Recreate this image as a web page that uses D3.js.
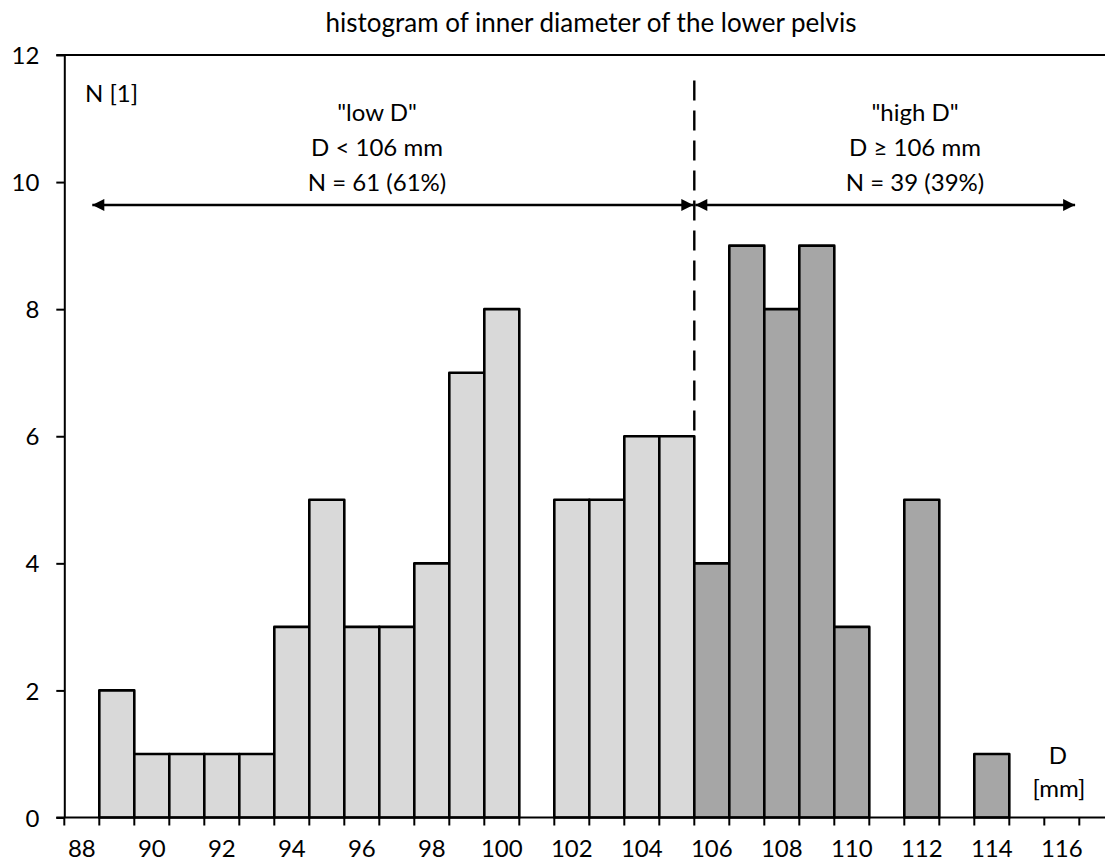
<!DOCTYPE html>
<html>
<head>
<meta charset="utf-8">
<script src="https://cdn.jsdelivr.net/npm/d3@7"></script>
<style>
  html, body { margin: 0; padding: 0; background: #fff; }
  svg text { font-family: Lato, "Open Sans", sans-serif; fill: #000; }
</style>
</head>
<body>
<svg id="chart" width="1105" height="865"></svg>
<script>
// ---- data ----
const categories = ["88","89","90","91","92","93","94","95","96","97","98","99","100","101","102",
                    "103","104","105","106","107","108","109","110","111","112","113","114","115","116","117"];
const counts     = [0, 2, 1, 1, 1, 1, 3, 5, 3, 3, 4, 7, 8, 0, 5,
                    5, 6, 6, 4, 9, 8, 9, 3, 0, 5, 0, 1, 0, 0, 0];
const xTickLabels = ["88","90","92","94","96","98","100","102","104","106","108","110","112","114","116"];
const yTicks = [0, 2, 4, 6, 8, 10, 12];
const threshold = 106;          // "low D" < 106 mm <= "high D"
const title = "histogram of inner diameter of the lower pelvis";
const lowLabel  = ['"low D"', "D < 106 mm", "N = 61 (61%)"];
const highLabel = ['"high D"', "D \u2265 106 mm", "N = 39 (39%)"];
const arrowLevel = 9.64;        // y value of the double arrows
const dashTop = 11.6;           // y value where the split line starts
const dashBottom = 6;           // y value where the split line ends
const arrowLeftEnd = 88.3;      // x (category units) of left arrow tip
const arrowRightEnd = 116.38;   // x (category units) of right arrow tip

// ---- layout ----
const svg = d3.select("#chart");
const mLeft = 64.3, mBottom = 817.5, mTop = 55, bw = 35;
const x = d3.scaleBand().domain(categories).range([mLeft, mLeft + bw * categories.length]).padding(0);
const xc = d3.scaleLinear().domain([+categories[0] - 0.5, +categories[categories.length - 1] + 0.5])
             .range([mLeft, mLeft + bw * categories.length]);
const y = d3.scaleLinear().domain([0, 12]).range([mBottom, mTop]);

const lightFill = "#d9d9d9", darkFill = "#a6a6a6";
const fs = 24;

// top line at 12
svg.append("line")
  .attr("x1", mLeft - 8).attr("x2", 1105)
  .attr("y1", y(12)).attr("y2", y(12))
  .attr("stroke", "#000").attr("stroke-width", 2);

// bars
svg.append("g").selectAll("rect")
  .data(categories.map((c, i) => ({ c, v: counts[i] })).filter(d => d.v > 0))
  .join("rect")
  .attr("x", d => x(d.c))
  .attr("width", x.bandwidth())
  .attr("y", d => y(d.v))
  .attr("height", d => y(0) - y(d.v))
  .attr("fill", d => (+d.c < threshold ? lightFill : darkFill))
  .attr("stroke", "#000")
  .attr("stroke-width", 2.6)
  .attr("stroke-linejoin", "round");

// y axis
const yAxis = svg.append("g")
  .attr("transform", `translate(${mLeft},0)`)
  .call(d3.axisLeft(y).tickValues(yTicks).tickSize(8).tickSizeOuter(0).tickPadding(17));
yAxis.select(".domain").attr("stroke-width", 2);
yAxis.selectAll(".tick line").attr("stroke-width", 2);
yAxis.selectAll(".tick text").attr("font-size", fs).attr("dy", "0.36em");

// x axis line
svg.append("line")
  .attr("x1", mLeft - 8).attr("x2", 1105)
  .attr("y1", mBottom).attr("y2", mBottom)
  .attr("stroke", "#000").attr("stroke-width", 2);

// x tick marks at category boundaries
const bounds = categories.map(c => x(c)).concat([x(categories[categories.length - 1]) + x.bandwidth()]);
svg.append("g").selectAll("line")
  .data(bounds)
  .join("line")
  .attr("x1", d => d).attr("x2", d => d)
  .attr("y1", mBottom).attr("y2", mBottom + 8)
  .attr("stroke", "#000").attr("stroke-width", 2);

// x labels (every second category, centred)
const xAxis = svg.append("g")
  .attr("transform", `translate(0,${mBottom})`)
  .call(d3.axisBottom(x).tickValues(xTickLabels).tickSize(0).tickPadding(22));
xAxis.select(".domain").remove();
xAxis.selectAll(".tick text").attr("font-size", fs);

// title
svg.append("text")
  .attr("x", 591).attr("y", 32)
  .attr("text-anchor", "middle")
  .attr("font-size", 26)
  .text(title);

// axis unit labels
svg.append("text").attr("x", 85).attr("y", 102).attr("font-size", fs).text("N [1]");
svg.append("text").attr("x", 1058).attr("y", 764).attr("text-anchor", "middle").attr("font-size", fs).text("D");
svg.append("text").attr("x", 1059).attr("y", 797).attr("text-anchor", "middle").attr("font-size", fs).text("[mm]");

// split line
const splitX = xc(threshold - 0.5);
svg.append("line")
  .attr("x1", splitX).attr("x2", splitX)
  .attr("y1", y(dashTop)).attr("y2", y(dashBottom))
  .attr("stroke", "#000").attr("stroke-width", 2.4)
  .attr("stroke-dasharray", "20,10");

// arrows
const defs = svg.append("defs");
defs.append("marker")
  .attr("id", "ah").attr("viewBox", "0 0 10 10")
  .attr("refX", 10).attr("refY", 5)
  .attr("markerUnits", "userSpaceOnUse")
  .attr("markerWidth", 14).attr("markerHeight", 12)
  .attr("orient", "auto-start-reverse")
  .append("path").attr("d", "M0,0 L10,5 L0,10 Z").attr("fill", "#000");

const ay = y(arrowLevel);
svg.append("line")
  .attr("x1", xc(arrowLeftEnd)).attr("x2", splitX - 1)
  .attr("y1", ay).attr("y2", ay)
  .attr("stroke", "#000").attr("stroke-width", 2.6)
  .attr("marker-start", "url(#ah)").attr("marker-end", "url(#ah)");
svg.append("line")
  .attr("x1", splitX + 1).attr("x2", xc(arrowRightEnd))
  .attr("y1", ay).attr("y2", ay)
  .attr("stroke", "#000").attr("stroke-width", 2.6)
  .attr("marker-start", "url(#ah)").attr("marker-end", "url(#ah)");

// group labels
function block(lines, cx) {
  svg.append("g").selectAll("text")
    .data(lines)
    .join("text")
    .attr("x", cx)
    .attr("y", (d, i) => 121 + i * 35)
    .attr("text-anchor", "middle")
    .attr("font-size", fs)
    .text(d => d);
}
block(lowLabel, 377);
block(highLabel, 915);
</script>
</body>
</html>
